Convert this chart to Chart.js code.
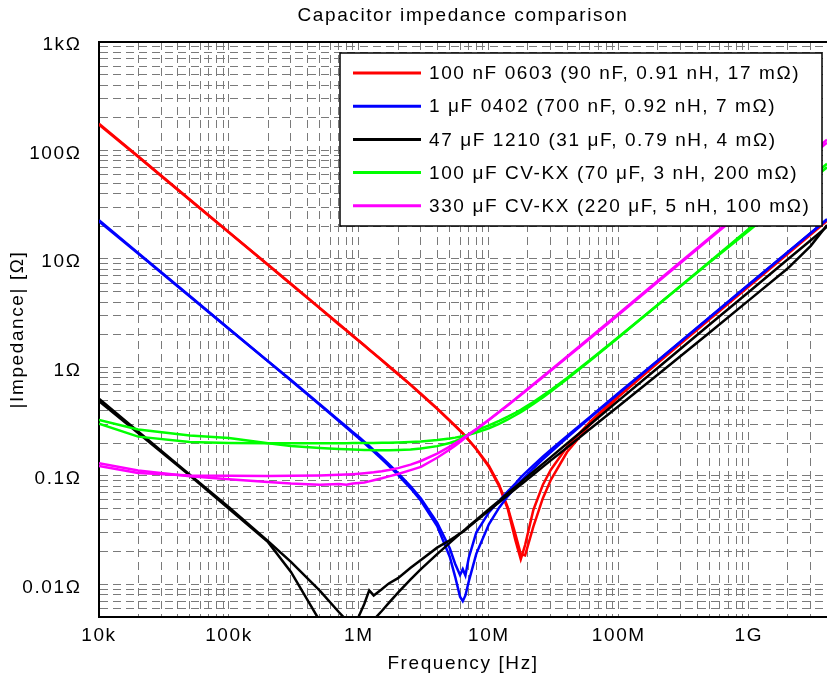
<!DOCTYPE html>
<html>
<head>
<meta charset="utf-8">
<script src="https://cdn.jsdelivr.net/npm/chart.js@4/dist/chart.umd.min.js"></script>
<style>
  html, body { margin: 0; padding: 0; background: #fff; }
  canvas { display: block; }
</style>
</head>
<body>
<canvas id="chart" width="827" height="678"></canvas>
<script>
// Sweep frequencies shared by all traces [Hz]
const freqHz = [
  1e4, 2e4, 5e4, 1e5, 2e5, 3e5, 5e5, 7e5, 8e5, 9e5,
  1e6, 1.1e6, 1.2e6, 1.3e6, 1.5e6, 1.7e6, 2e6, 2.5e6, 3e6, 4e6,
  5e6, 5.5e6, 6e6, 6.3e6, 6.6e6, 7e6, 8e6, 1e7, 1.2e7, 1.4e7,
  1.6e7, 1.76e7, 1.9e7, 2.2e7, 2.6e7, 3e7, 4e7, 6e7, 1e8, 2e8,
  5e8, 1e9, 2e9, 3e9, 4e9
];

// |Z| in ohms: fitted RLC model and measured trace for each part
const red100nModel = [
  176.8, 88.42, 35.37, 17.68, 8.842, 5.895, 3.537, 2.522, 2.206, 1.960,
  1.763, 1.601, 1.467, 1.353, 1.170, 1.031, 0.873, 0.693, 0.572, 0.419,
  0.325, 0.290, 0.260, 0.245, 0.230, 0.213, 0.176, 0.121, 0.0806, 0.0493,
  0.0255, 0.0170, 0.0230, 0.0485, 0.0825, 0.1139, 0.1853, 0.3141, 0.554, 1.135,
  2.855, 5.716, 11.43, 17.15, 22.87
];
const red100nMeasured = [
  173.0, 87.5, 35.0, 17.5, 8.78, 5.84, 3.50, 2.49, 2.19, 1.94,
  1.75, 1.59, 1.45, 1.34, 1.16, 1.02, 0.865, 0.690, 0.565, 0.415,
  0.322, 0.288, 0.262, 0.248, 0.232, 0.214, 0.178, 0.124, 0.083, 0.051,
  0.029, 0.019, 0.0185, 0.034, 0.062, 0.092, 0.166, 0.296, 0.538, 1.10,
  2.78, 5.57, 11.15, 16.8, 22.4
];
const blue1uModel = [
  22.74, 11.37, 4.547, 2.274, 1.137, 0.758, 0.4518, 0.3208, 0.2796, 0.2474,
  0.2216, 0.2003, 0.1826, 0.1674, 0.1429, 0.1239, 0.1021, 0.0768, 0.0589, 0.0344,
  0.0180, 0.0118, 0.0077, 0.0070, 0.0079, 0.0106, 0.0191, 0.0358, 0.0509, 0.0651,
  0.0786, 0.0891, 0.0981, 0.1170, 0.1417, 0.1660, 0.2256, 0.3430, 0.5758, 1.155,
  2.890, 5.780, 11.56, 17.34, 23.12
];
const blue1uMeasured = [
  22.2, 11.2, 4.50, 2.26, 1.14, 0.765, 0.458, 0.326, 0.285, 0.253,
  0.228, 0.207, 0.189, 0.173, 0.148, 0.128, 0.106, 0.080, 0.062, 0.037,
  0.0215, 0.0155, 0.0122, 0.0138, 0.0121, 0.0175, 0.030, 0.046, 0.059, 0.072,
  0.085, 0.097, 0.106, 0.125, 0.150, 0.174, 0.234, 0.350, 0.585, 1.16,
  2.90, 5.82, 11.6, 17.4, 23.2
];
const black47uModel = [
  0.5134, 0.2567, 0.1027, 0.0514, 0.0250, 0.0161, 0.00876, 0.00556, 0.00469, 0.00418,
  0.00400, 0.00408, 0.00434, 0.00472, 0.00568, 0.00674, 0.00838, 0.0111, 0.0138, 0.0190,
  0.0241, 0.0267, 0.0292, 0.0307, 0.0322, 0.0343, 0.0393, 0.0493, 0.0591, 0.0691,
  0.0791, 0.0871, 0.0943, 0.1092, 0.1290, 0.1489, 0.1985, 0.2978, 0.4964, 0.9927,
  2.482, 4.964, 9.927, 14.89, 19.85
];
const black47uMeasured = [
  0.488, 0.248, 0.1005, 0.0498, 0.0245, 0.0130, 0.0046, 0.0026, 0.0022, 0.0030,
  0.0051, 0.0066, 0.0088, 0.0079, 0.0090, 0.0102, 0.0114, 0.0142, 0.0168, 0.0218,
  0.0255, 0.0275, 0.0296, 0.0305, 0.0318, 0.0338, 0.0385, 0.0478, 0.0572, 0.0665,
  0.0755, 0.083, 0.089, 0.103, 0.121, 0.139, 0.183, 0.271, 0.440, 0.860,
  2.10, 4.15, 8.20, 13.2, 20.5
];
const green100uModel = [
  0.3029, 0.2301, 0.2051, 0.2011, 0.2001, 0.2000, 0.2001, 0.2002, 0.2003, 0.2005,
  0.2007, 0.2009, 0.2011, 0.2013, 0.2018, 0.2023, 0.2033, 0.2053, 0.2076, 0.2137,
  0.2211, 0.2253, 0.2298, 0.2326, 0.2355, 0.2396, 0.2505, 0.2748, 0.3019, 0.3311,
  0.3619, 0.3874, 0.4102, 0.4604, 0.5293, 0.5998, 0.7801, 1.1485, 1.896, 3.775,
  9.427, 18.85, 37.70, 56.55, 75.40
];
const green100uMeasured = [
  0.328, 0.268, 0.236, 0.224, 0.200, 0.189, 0.181, 0.177, 0.176, 0.175,
  0.174, 0.173, 0.173, 0.172, 0.172, 0.172, 0.173, 0.175, 0.179, 0.188,
  0.201, 0.209, 0.218, 0.225, 0.232, 0.241, 0.263, 0.292, 0.322, 0.352,
  0.382, 0.407, 0.430, 0.480, 0.550, 0.620, 0.800, 1.17, 1.92, 3.78,
  9.30, 18.2, 35.8, 53.0, 70.0
];
const magenta330uModel = [
  0.1234, 0.1063, 0.1008, 0.1001, 0.1000, 0.1002, 0.1010, 0.1022, 0.1029, 0.1037,
  0.1046, 0.1056, 0.1067, 0.1078, 0.1103, 0.1132, 0.1179, 0.1269, 0.1372, 0.1605,
  0.1861, 0.1996, 0.2133, 0.2217, 0.2302, 0.2415, 0.2705, 0.3296, 0.3900, 0.4510,
  0.5125, 0.5619, 0.6052, 0.6983, 0.8229, 0.9478, 1.2606, 1.8876, 3.143, 6.283,
  15.71, 31.42, 62.83, 94.25, 125.7
];
const magenta330uMeasured = [
  0.131, 0.112, 0.099, 0.093, 0.088, 0.085, 0.083, 0.084, 0.083, 0.085,
  0.086, 0.087, 0.089, 0.091, 0.095, 0.099, 0.104, 0.113, 0.121, 0.147,
  0.175, 0.190, 0.205, 0.215, 0.226, 0.239, 0.268, 0.328, 0.388, 0.448,
  0.508, 0.556, 0.598, 0.690, 0.810, 0.935, 1.24, 1.85, 3.08, 6.15,
  15.3, 30.5, 60.5, 89.0, 118.0
];

const legendLabels = [
  '100 nF 0603 (90 nF, 0.91 nH, 17 mΩ)',
  '1 μF 0402 (700 nF, 0.92 nH, 7 mΩ)',
  '47 μF 1210 (31 μF, 0.79 nH, 4 mΩ)',
  '100 μF CV-KX (70 μF, 3 nH, 200 mΩ)',
  '330 μF CV-KX (220 μF, 5 nH, 100 mΩ)'
];

const chartTitle = 'Capacitor impedance comparison';

// Axis ticks
const xTickValues = [1e4, 1e5, 1e6, 1e7, 1e8, 1e9];
const xTickLabels = ['10k', '100k', '1M', '10M', '100M', '1G'];
const yTickValues = [0.01, 0.1, 1, 10, 100, 1000];
const yTickLabels = ['0.01Ω', '0.1Ω', '1Ω', '10Ω', '100Ω', '1kΩ'];

// ---- styling ----
const FONT = "'Liberation Sans', Arial, Helvetica, sans-serif";
const TEXT_SPACING = '1.6px';
const traceColors = ['#ff0000', '#0000ff', '#000000', '#00ff00', '#ff00ff'];

// Log grid positions: 1..9 times each decade within [lo, hi]
function logGrid(lo, hi) {
  const out = [];
  for (let e = Math.floor(Math.log10(lo)); e <= Math.ceil(Math.log10(hi)); e++) {
    for (let k = 1; k <= 9; k++) {
      const v = Number((k * Math.pow(10, e)).toPrecision(6));
      if (v >= lo * 0.9999 && v <= hi * 1.0001) out.push(v);
    }
  }
  return out;
}

function labelFor(values, labels, v) {
  const i = values.findIndex(t => Math.abs(t - v) / t < 1e-6);
  return i >= 0 ? labels[i] : '';
}

const pairs = [
  [red100nModel, red100nMeasured],
  [blue1uModel, blue1uMeasured],
  [black47uModel, black47uMeasured],
  [green100uModel, green100uMeasured],
  [magenta330uModel, magenta330uMeasured]
];

const datasets = [];
pairs.forEach((pair, i) => {
  pair.forEach((vals, j) => {
    datasets.push({
      label: legendLabels[i] + (j === 0 ? ' model' : ' measured'),
      data: freqHz.map((f, k) => ({ x: f, y: vals[k] })),
      borderColor: traceColors[i],
      borderWidth: 2.5,
      pointRadius: 0,
      tension: 0,
      fill: false,
      order: 10 - i * 2 - j
    });
  });
});

const X_MIN = 1e4, X_MAX = 4e9, Y_MIN = 0.005, Y_MAX = 1000;

const textSpacingPlugin = {
  id: 'textSpacing',
  beforeLayout(chart) { chart.ctx.letterSpacing = TEXT_SPACING; },
  beforeDraw(chart) { chart.ctx.letterSpacing = TEXT_SPACING; }
};

// Title centred over the plotting area, plus the top frame edge
const framePlugin = {
  id: 'frameTop',
  afterDraw(chart, args, opts) {
    const { ctx, chartArea: a } = chart;
    ctx.save();
    ctx.strokeStyle = '#000';
    ctx.lineWidth = 2;
    ctx.beginPath();
    ctx.moveTo(a.left, a.top);
    ctx.lineTo(a.right, a.top);
    ctx.stroke();
    ctx.font = opts.titleSize + 'px ' + FONT;
    ctx.letterSpacing = TEXT_SPACING;
    ctx.fillStyle = '#000';
    ctx.textAlign = 'center';
    ctx.textBaseline = 'middle';
    ctx.fillText(chartTitle, (a.left + a.right) / 2, opts.titleY);
    ctx.restore();
  }
};

const boxLegendPlugin = {
  id: 'boxLegend',
  afterDraw(chart, args, opts) {
    const { ctx, chartArea: a } = chart;
    const left = a.left + opts.offsetLeft;
    const top = a.top + opts.offsetTop;
    const w = opts.width, h = opts.height;
    ctx.save();
    ctx.fillStyle = '#fff';
    ctx.fillRect(left, top, w, h);
    ctx.strokeStyle = '#000';
    ctx.lineWidth = 1.5;
    ctx.strokeRect(left, top, w, h);
    ctx.font = opts.fontSize + 'px ' + FONT;
    ctx.letterSpacing = TEXT_SPACING;
    ctx.textBaseline = 'middle';
    ctx.textAlign = 'left';
    legendLabels.forEach((txt, i) => {
      const y = top + opts.firstRow + i * opts.rowStep;
      ctx.strokeStyle = traceColors[i];
      ctx.lineWidth = 3;
      ctx.beginPath();
      ctx.moveTo(left + opts.lineStart, y);
      ctx.lineTo(left + opts.lineEnd, y);
      ctx.stroke();
      ctx.fillStyle = '#000';
      ctx.fillText(txt, left + opts.textStart, y + 1);
    });
    ctx.restore();
  }
};

const gridStyle = { color: '#7a7a7a', lineWidth: 1, drawTicks: false };
const borderStyle = { display: true, color: '#000', width: 2, dash: [8, 5] };

new Chart(document.getElementById('chart'), {
  type: 'line',
  data: { datasets },
  options: {
    responsive: false,
    animation: false,
    devicePixelRatio: 1,
    layout: { padding: { top: 42, right: 0, left: 0, bottom: 0 } },
    font: { family: FONT },
    plugins: {
      legend: { display: false },
      tooltip: { enabled: false },
      title: { display: false },
      frameTop: { titleSize: 19, titleY: 16 },
      boxLegend: {
        offsetLeft: 241, offsetTop: 11, width: 482, height: 173,
        firstRow: 20, rowStep: 33.2,
        lineStart: 13, lineEnd: 81, textStart: 89, fontSize: 19
      }
    },
    scales: {
      x: {
        type: 'logarithmic',
        position: 'bottom',
        min: X_MIN,
        max: X_MAX,
        afterBuildTicks(scale) {
          scale.ticks = logGrid(X_MIN, X_MAX).map(v => ({ value: v }));
        },
        afterFit(scale) {
          scale.height = 61;
          scale.paddingLeft = 0;
          scale.paddingRight = 0;
        },
        ticks: {
          autoSkip: false,
          maxRotation: 0,
          minRotation: 0,
          padding: 7,
          color: '#000',
          font: { family: FONT, size: 19 },
          callback: v => labelFor(xTickValues, xTickLabels, v)
        },
        grid: gridStyle,
        border: borderStyle,
        title: {
          display: true,
          text: 'Frequency [Hz]',
          color: '#000',
          font: { family: FONT, size: 19 },
          padding: { top: 0, bottom: 3 }
        }
      },
      y: {
        type: 'logarithmic',
        position: 'left',
        min: Y_MIN,
        max: Y_MAX,
        afterBuildTicks(scale) {
          scale.ticks = logGrid(Y_MIN, Y_MAX).map(v => ({ value: v }));
        },
        afterFit(scale) {
          scale.width = 99;
          scale.paddingTop = 0;
          scale.paddingBottom = 0;
        },
        ticks: {
          autoSkip: false,
          padding: 17.5,
          labelOffset: 3,
          color: '#000',
          font: { family: FONT, size: 19 },
          callback: v => labelFor(yTickValues, yTickLabels, v)
        },
        grid: gridStyle,
        border: borderStyle,
        title: {
          display: true,
          text: '|Impedance| [Ω]',
          color: '#000',
          font: { family: FONT, size: 19 },
          padding: { top: 6.5, bottom: 0 }
        }
      }
    }
  },
  plugins: [textSpacingPlugin, framePlugin, boxLegendPlugin]
});
</script>
</body>
</html>
